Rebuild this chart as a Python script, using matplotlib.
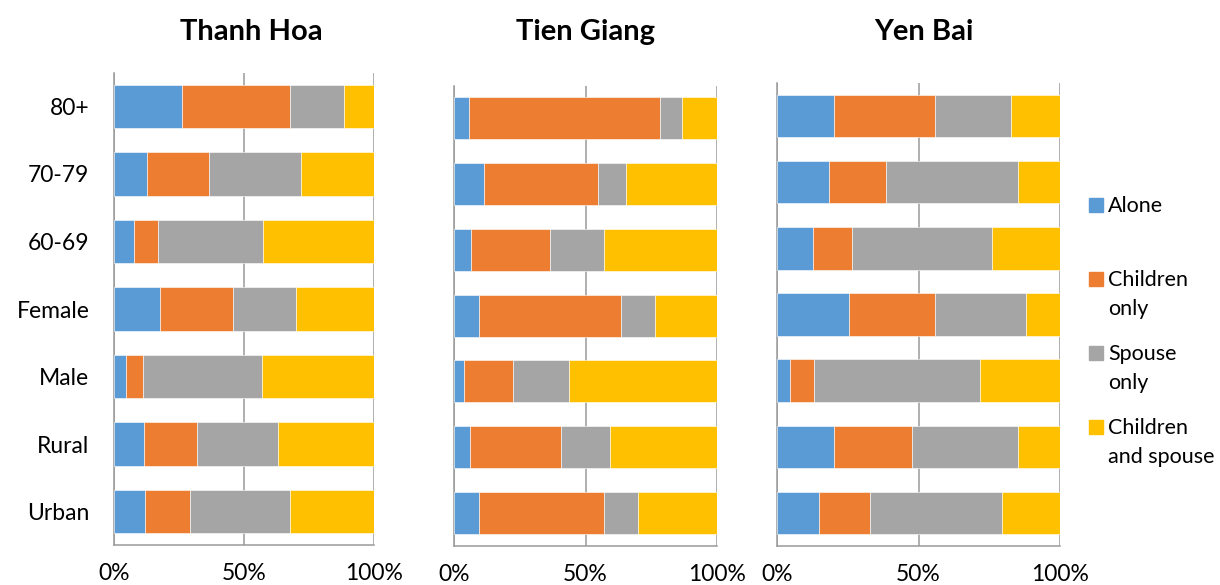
import matplotlib
matplotlib.use("Agg")
import matplotlib.pyplot as plt
from matplotlib.patches import Rectangle

plt.rcParams["font.family"] = ["Lato", "DejaVu Sans"]

# categories (bottom to top as drawn)
groups = ["Urban", "Rural", "Male", "Female", "60-69", "70-79", "80+"]
series = ["Alone", "Children\nonly", "Spouse\nonly", "Children\nand spouse"]
colors = ["#5B9BD5", "#ED7D31", "#A5A5A5", "#FFC000"]
provinces = ["Thanh Hoa", "Tien Giang", "Yen Bai"]

# shares (%) per province, order matches groups
thanh_hoa_alone = [11.9, 11.3, 4.4, 17.7, 7.7, 12.5, 25.9]
thanh_hoa_children = [17.3, 20.5, 6.8, 28.0, 9.2, 24.0, 41.8]
thanh_hoa_spouse = [38.4, 31.2, 45.6, 24.2, 40.3, 35.4, 20.8]
thanh_hoa_both = [32.4, 37.0, 43.2, 30.1, 42.8, 28.1, 11.5]

tien_giang_alone = [9.4, 6.2, 3.9, 9.6, 6.3, 11.4, 5.8]
tien_giang_children = [47.7, 34.6, 18.6, 53.9, 30.3, 43.4, 72.3]
tien_giang_spouse = [12.9, 18.4, 21.3, 12.8, 20.5, 10.6, 8.5]
tien_giang_both = [30.0, 40.8, 56.2, 23.7, 42.9, 34.6, 13.4]

yen_bai_alone = [15.0, 20.1, 4.7, 25.6, 12.9, 18.3, 20.3]
yen_bai_children = [18.0, 27.7, 8.4, 30.3, 13.6, 20.1, 35.6]
yen_bai_spouse = [46.3, 37.4, 58.7, 32.1, 49.5, 46.7, 26.8]
yen_bai_both = [20.7, 14.8, 28.2, 12.0, 24.0, 14.9, 17.3]

data = {
    "Thanh Hoa": [thanh_hoa_alone, thanh_hoa_children, thanh_hoa_spouse, thanh_hoa_both],
    "Tien Giang": [tien_giang_alone, tien_giang_children, tien_giang_spouse, tien_giang_both],
    "Yen Bai": [yen_bai_alone, yen_bai_children, yen_bai_spouse, yen_bai_both],
}

W, H = 1220, 585
fig = plt.figure(figsize=(W / 100, H / 100), dpi=100)

# panel boxes in pixels: left, right, top, bottom
boxes = [(114.3, 374.0, 72.7, 545.4),
         (454.0, 717.3, 85.6, 545.5),
         (776.7, 1060.3, 83.2, 545.8)]
title_x = [251, 586, 924]

grid_col = "#9a9a9a"
for i, (name, (l, r, t, b)) in enumerate(zip(provinces, boxes)):
    ax = fig.add_axes([l / W, (H - b) / H, (r - l) / W, (b - t) / H])
    left = [0.0] * len(groups)
    for vals, c in zip(data[name], colors):
        ax.barh(groups, vals, left=left, height=0.64, color=c,
                edgecolor="white", linewidth=0.4, zorder=3)
        left = [a + v for a, v in zip(left, vals)]
    ax.set_xlim(0, 100)
    ax.set_ylim(-0.5, len(groups) - 0.5)
    ax.set_xticks([0, 50, 100])
    ax.set_xticklabels(["0%", "50%", "100%"])
    ax.xaxis.grid(True, color=grid_col, linewidth=1.1, zorder=0)
    ax.tick_params(axis="x", length=0, pad=13, labelsize=16.5)
    ax.tick_params(axis="y", length=0, pad=18, labelsize=16.5)
    for s in ["top", "right"]:
        ax.spines[s].set_visible(False)
    for s in ["left", "bottom"]:
        ax.spines[s].set_color(grid_col)
        ax.spines[s].set_linewidth(1.1)
    if i > 0:
        ax.set_yticklabels([])
    fig.text(title_x[i] / W, 1 - 40 / H, name, ha="center", va="baseline",
             fontsize=21, fontweight="bold")

# legend drawn to the right of the last panel; square sits on the first line
leg_base = [212, 286, 360, 434]
line_gap = 29
for lab, c, y in zip(series, colors, leg_base):
    fig.patches.append(Rectangle((1089 / W, 1 - y / H), 14 / W, 14 / H,
                                 transform=fig.transFigure, color=c))
    last = y + line_gap * lab.count("\n")
    fig.text(1108 / W, 1 - last / H, lab, ha="left", va="baseline",
             fontsize=15.5, linespacing=1.55)

fig.savefig("out.png", dpi=100)
